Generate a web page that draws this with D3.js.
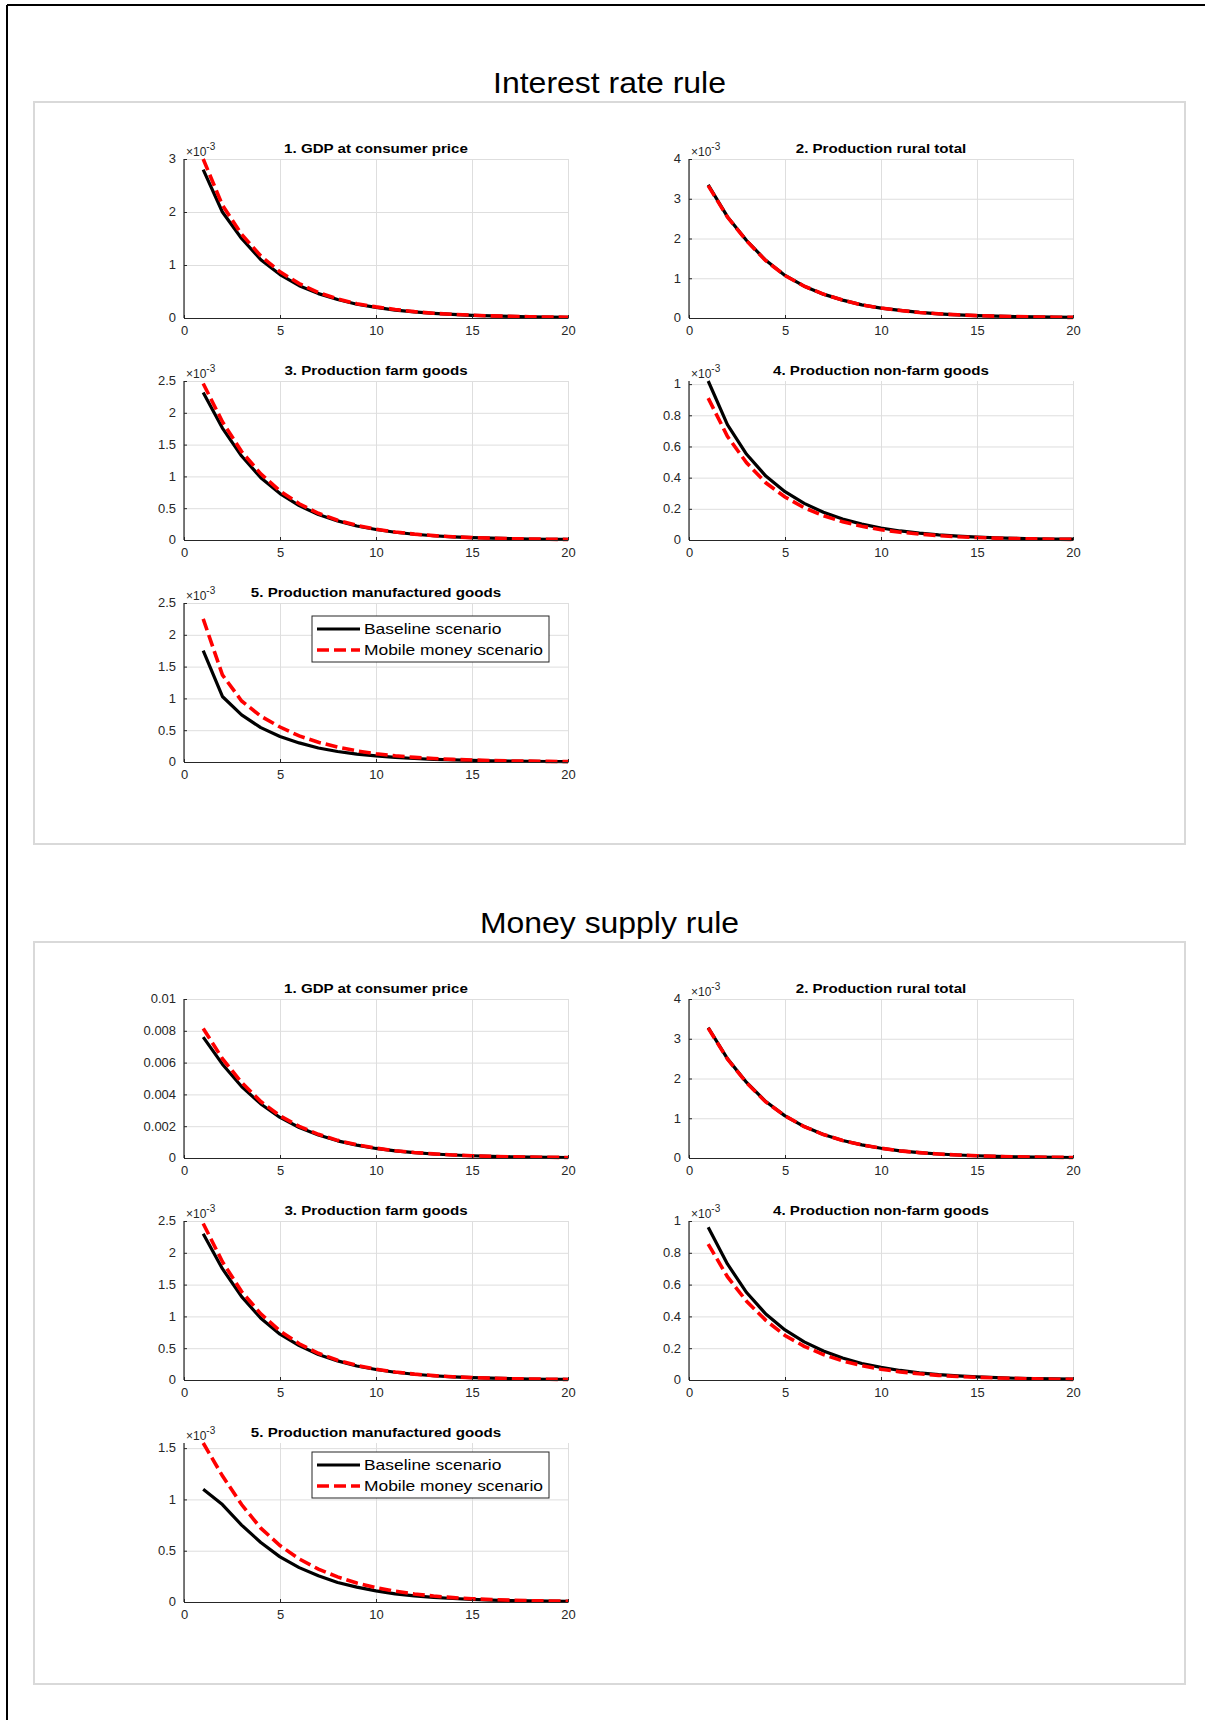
<!DOCTYPE html>
<html>
<head>
<meta charset="utf-8">
<script src="https://cdn.jsdelivr.net/npm/d3@7/dist/d3.min.js"></script>
<style>
  body { margin: 0; background: #fff; }
  svg { display: block; }
  text { font-family: "Liberation Sans", Arial, sans-serif; }
</style>
</head>
<body>
<svg id="fig" width="1205" height="1720"></svg>
<script>
// periods on the x axis
const periods = [1, 2, 3, 4, 5, 6, 7, 8, 9, 10, 11, 12, 13, 14, 15, 16, 17, 18, 19, 20];
const xTicks = [0, 5, 10, 15, 20];
const seriesNames = ["Baseline scenario", "Mobile money scenario"];
const panelTitles = ["Interest rate rule", "Money supply rule"];
const plotTitles = [
    "1. GDP at consumer price",
    "2. Production rural total",
    "3. Production farm goods",
    "4. Production non-farm goods",
    "5. Production manufactured goods"
];

// all values below are in units of 1e-3

// interest rate rule
const irGdpBase    = [2.80, 2.00, 1.50, 1.10, 0.82, 0.61, 0.46, 0.35, 0.26, 0.20, 0.150, 0.115, 0.088, 0.067, 0.051, 0.039, 0.030, 0.023, 0.018, 0.014];
const irGdpMobile  = [3.00, 2.13, 1.58, 1.17, 0.87, 0.65, 0.48, 0.36, 0.27, 0.21, 0.160, 0.120, 0.090, 0.069, 0.053, 0.040, 0.031, 0.024, 0.018, 0.014];
const irRuralBase  = [3.35, 2.55, 1.95, 1.45, 1.07, 0.80, 0.60, 0.45, 0.33, 0.25, 0.190, 0.140, 0.105, 0.080, 0.060, 0.045, 0.034, 0.026, 0.020, 0.015];
const irRuralMobile= [3.33, 2.54, 1.94, 1.44, 1.07, 0.80, 0.60, 0.45, 0.33, 0.25, 0.190, 0.140, 0.105, 0.080, 0.060, 0.045, 0.034, 0.026, 0.020, 0.015];
const irFarmBase   = [2.32, 1.76, 1.32, 0.98, 0.73, 0.54, 0.40, 0.30, 0.22, 0.165, 0.122, 0.090, 0.067, 0.050, 0.037, 0.028, 0.021, 0.016, 0.012, 0.009];
const irFarmMobile = [2.46, 1.86, 1.39, 1.04, 0.77, 0.57, 0.42, 0.31, 0.23, 0.170, 0.126, 0.093, 0.069, 0.051, 0.038, 0.028, 0.021, 0.016, 0.012, 0.009];
const irNonfBase   = [1.02, 0.74, 0.55, 0.41, 0.31, 0.235, 0.178, 0.135, 0.102, 0.077, 0.058, 0.044, 0.033, 0.025, 0.019, 0.014, 0.011, 0.008, 0.006, 0.005];
const irNonfMobile = [0.91, 0.665, 0.495, 0.367, 0.276, 0.207, 0.156, 0.117, 0.088, 0.066, 0.050, 0.038, 0.028, 0.021, 0.016, 0.012, 0.009, 0.007, 0.005, 0.004];
const irManuBase   = [1.75, 1.03, 0.74, 0.54, 0.40, 0.30, 0.22, 0.165, 0.125, 0.095, 0.072, 0.055, 0.042, 0.032, 0.024, 0.018, 0.014, 0.011, 0.008, 0.006];
const irManuMobile = [2.25, 1.37, 0.96, 0.72, 0.55, 0.41, 0.31, 0.235, 0.175, 0.130, 0.097, 0.073, 0.055, 0.041, 0.031, 0.023, 0.017, 0.013, 0.010, 0.007];

// money supply rule
const msGdpBase    = [7.60, 5.90, 4.50, 3.40, 2.55, 1.92, 1.45, 1.08, 0.81, 0.60, 0.45, 0.34, 0.25, 0.19, 0.14, 0.105, 0.078, 0.058, 0.043, 0.032];
const msGdpMobile  = [8.15, 6.25, 4.75, 3.55, 2.65, 1.99, 1.49, 1.11, 0.83, 0.62, 0.46, 0.345, 0.26, 0.19, 0.14, 0.105, 0.078, 0.058, 0.043, 0.032];
const msRuralBase  = [3.28, 2.50, 1.90, 1.42, 1.06, 0.79, 0.59, 0.44, 0.33, 0.245, 0.180, 0.135, 0.100, 0.075, 0.056, 0.042, 0.031, 0.023, 0.017, 0.013];
const msRuralMobile= [3.27, 2.49, 1.89, 1.41, 1.06, 0.79, 0.59, 0.44, 0.33, 0.245, 0.180, 0.135, 0.100, 0.075, 0.056, 0.042, 0.031, 0.023, 0.017, 0.013];
const msFarmBase   = [2.30, 1.75, 1.31, 0.97, 0.72, 0.54, 0.40, 0.30, 0.22, 0.165, 0.122, 0.090, 0.067, 0.050, 0.037, 0.028, 0.021, 0.016, 0.012, 0.009];
const msFarmMobile = [2.46, 1.86, 1.39, 1.04, 0.77, 0.57, 0.42, 0.31, 0.23, 0.170, 0.126, 0.093, 0.069, 0.051, 0.038, 0.028, 0.021, 0.016, 0.012, 0.009];
const msNonfBase   = [0.96, 0.73, 0.55, 0.415, 0.315, 0.24, 0.182, 0.138, 0.104, 0.079, 0.060, 0.045, 0.034, 0.026, 0.020, 0.015, 0.011, 0.009, 0.007, 0.005];
const msNonfMobile = [0.855, 0.65, 0.495, 0.375, 0.28, 0.212, 0.160, 0.120, 0.090, 0.068, 0.051, 0.039, 0.029, 0.022, 0.017, 0.013, 0.010, 0.007, 0.005, 0.004];
const msManuBase   = [1.10, 0.95, 0.75, 0.58, 0.44, 0.335, 0.255, 0.19, 0.145, 0.108, 0.080, 0.060, 0.045, 0.034, 0.025, 0.019, 0.014, 0.010, 0.008, 0.006];
const msManuMobile = [1.55, 1.23, 0.95, 0.72, 0.55, 0.42, 0.32, 0.245, 0.185, 0.140, 0.105, 0.078, 0.058, 0.043, 0.032, 0.024, 0.018, 0.013, 0.010, 0.007];

// y axis per subplot
const irYTicks = [[0, 1, 2, 3], [0, 1, 2, 3, 4], [0, 0.5, 1, 1.5, 2, 2.5], [0, 0.2, 0.4, 0.6, 0.8, 1], [0, 0.5, 1, 1.5, 2, 2.5]];
const irYMax   = [3, 4, 2.5, 1.02, 2.5];
const irExp    = [true, true, true, true, true];
const msYTicks = [[0, 2, 4, 6, 8, 10], [0, 1, 2, 3, 4], [0, 0.5, 1, 1.5, 2, 2.5], [0, 0.2, 0.4, 0.6, 0.8, 1], [0, 0.5, 1, 1.5]];
const msYMax   = [10, 4, 2.5, 1, 1.55];
const msExp    = [false, true, true, true, true];

const panels = [
    { title: panelTitles[0], top: 102, titleW: 233, legendDy: 13,
      base: [irGdpBase, irRuralBase, irFarmBase, irNonfBase, irManuBase],
      mobile: [irGdpMobile, irRuralMobile, irFarmMobile, irNonfMobile, irManuMobile],
      ticks: irYTicks, ymax: irYMax, exp: irExp },
    { title: panelTitles[1], top: 942, titleW: 259, legendDy: 9,
      base: [msGdpBase, msRuralBase, msFarmBase, msNonfBase, msManuBase],
      mobile: [msGdpMobile, msRuralMobile, msFarmMobile, msNonfMobile, msManuMobile],
      ticks: msYTicks, ymax: msYMax, exp: msExp }
];

const svg = d3.select("#fig");
const plotW = 384, plotH = 159;
const colX = [184, 689];
const rowOff = [57, 279, 501];
const axisCol = "#262626";
const gridCol = "#dedede";
const fmt = d3.format("~g");

// MATLAB export looks a bit wider than the glyphs, stretch text to match
function widen(sel, k) {
    sel.each(function () {
        const w = this.getComputedTextLength();
        d3.select(this).attr("textLength", w * k).attr("lengthAdjust", "spacingAndGlyphs");
    });
}

// outer frame
svg.append("line").attr("x1", 7).attr("x2", 1205).attr("y1", 5).attr("y2", 5)
    .attr("stroke", "#000").attr("stroke-width", 2);
svg.append("line").attr("x1", 7).attr("x2", 7).attr("y1", 5).attr("y2", 1720)
    .attr("stroke", "#000").attr("stroke-width", 2);

panels.forEach(function (p) {
    svg.append("rect")
        .attr("x", 34).attr("y", p.top).attr("width", 1151).attr("height", 742)
        .attr("fill", "#fff").attr("stroke", "#d9d9d9").attr("stroke-width", 2);

    svg.append("text")
        .attr("x", 609.5).attr("y", p.top - 9)
        .attr("text-anchor", "middle")
        .attr("font-size", 30)
        .attr("fill", "#000")
        .attr("textLength", p.titleW).attr("lengthAdjust", "spacingAndGlyphs")
        .text(p.title);

    plotTitles.forEach(function (t, i) {
        const gx = colX[i % 2];
        const gy = p.top + rowOff[Math.floor(i / 2)];
        const g = svg.append("g").attr("transform", "translate(" + gx + "," + gy + ")");

        const x = d3.scaleLinear().domain([0, 20]).range([0, plotW]);
        const y = d3.scaleLinear().domain([0, p.ymax[i]]).range([plotH, 0]);

        // grid
        g.append("g")
            .attr("transform", "translate(0," + plotH + ")")
            .call(d3.axisBottom(x).tickValues(xTicks).tickSize(-plotH).tickFormat(""))
            .call(s => s.select(".domain").remove())
            .call(s => s.selectAll("line").attr("stroke", gridCol));
        g.append("g")
            .call(d3.axisLeft(y).tickValues(p.ticks[i]).tickSize(-plotW).tickFormat(""))
            .call(s => s.select(".domain").remove())
            .call(s => s.selectAll("line").attr("stroke", gridCol));

        // series
        const line = d3.line().x((d, j) => x(periods[j])).y(d => y(d));
        g.append("path").datum(p.base[i])
            .attr("fill", "none").attr("stroke", "#000").attr("stroke-width", 3.2)
            .attr("stroke-linejoin", "round")
            .attr("d", line);
        g.append("path").datum(p.mobile[i])
            .attr("fill", "none").attr("stroke", "#ff0000").attr("stroke-width", 3.6)
            .attr("stroke-dasharray", "12,5")
            .attr("d", line);

        // axes
        const xa = g.append("g")
            .attr("transform", "translate(0," + plotH + ")")
            .call(d3.axisBottom(x).tickValues(xTicks).tickSizeInner(-3).tickSizeOuter(0).tickPadding(8));
        const ya = g.append("g")
            .call(d3.axisLeft(y).tickValues(p.ticks[i]).tickSizeInner(-3).tickSizeOuter(0).tickPadding(8)
                .tickFormat(v => p.exp[i] ? fmt(v) : fmt(v / 1000)));
        [xa, ya].forEach(function (a) {
            a.select(".domain").attr("stroke", axisCol).attr("stroke-width", 1.2);
            a.selectAll(".tick line").attr("stroke", axisCol);
            a.selectAll(".tick text").attr("fill", axisCol).attr("font-size", 12)
                .attr("font-family", "Liberation Sans, Arial, sans-serif")
                .call(widen, 1.08);
        });
        // y axis line runs to the top of the box
        ya.select(".domain").attr("d", "M0," + y(0) + "V" + y(p.ymax[i]));

        // exponent
        if (p.exp[i]) {
            const e = g.append("text").attr("x", 2).attr("y", -3)
                .attr("fill", axisCol).attr("font-size", 12);
            e.append("tspan").text("\u00d710");
            e.append("tspan").attr("dy", -6).attr("font-size", 10).text("-3");
        }

        // subplot title
        g.append("text")
            .attr("x", plotW / 2).attr("y", -6)
            .attr("text-anchor", "middle")
            .attr("font-size", 13.5).attr("font-weight", "bold").attr("fill", "#000")
            .text(t)
            .call(widen, 1.12);

        // legend in the last subplot
        if (i === 4) {
            const lg = g.append("g").attr("transform", "translate(128," + p.legendDy + ")");
            lg.append("rect").attr("width", 237).attr("height", 46)
                .attr("fill", "#fff").attr("stroke", axisCol).attr("stroke-width", 1);
            seriesNames.forEach(function (n, k) {
                const ry = 13 + k * 21;
                lg.append("line").attr("x1", 5).attr("x2", 48).attr("y1", ry).attr("y2", ry)
                    .attr("stroke", k === 0 ? "#000" : "#ff0000")
                    .attr("stroke-width", k === 0 ? 3.2 : 3.6)
                    .attr("stroke-dasharray", k === 0 ? null : "12,5");
                lg.append("text").attr("x", 52).attr("y", ry + 5)
                    .attr("font-size", 15).attr("fill", "#000")
                    .text(n)
                    .call(widen, 1.16);
            });
        }
    });
});
</script>
</body>
</html>
